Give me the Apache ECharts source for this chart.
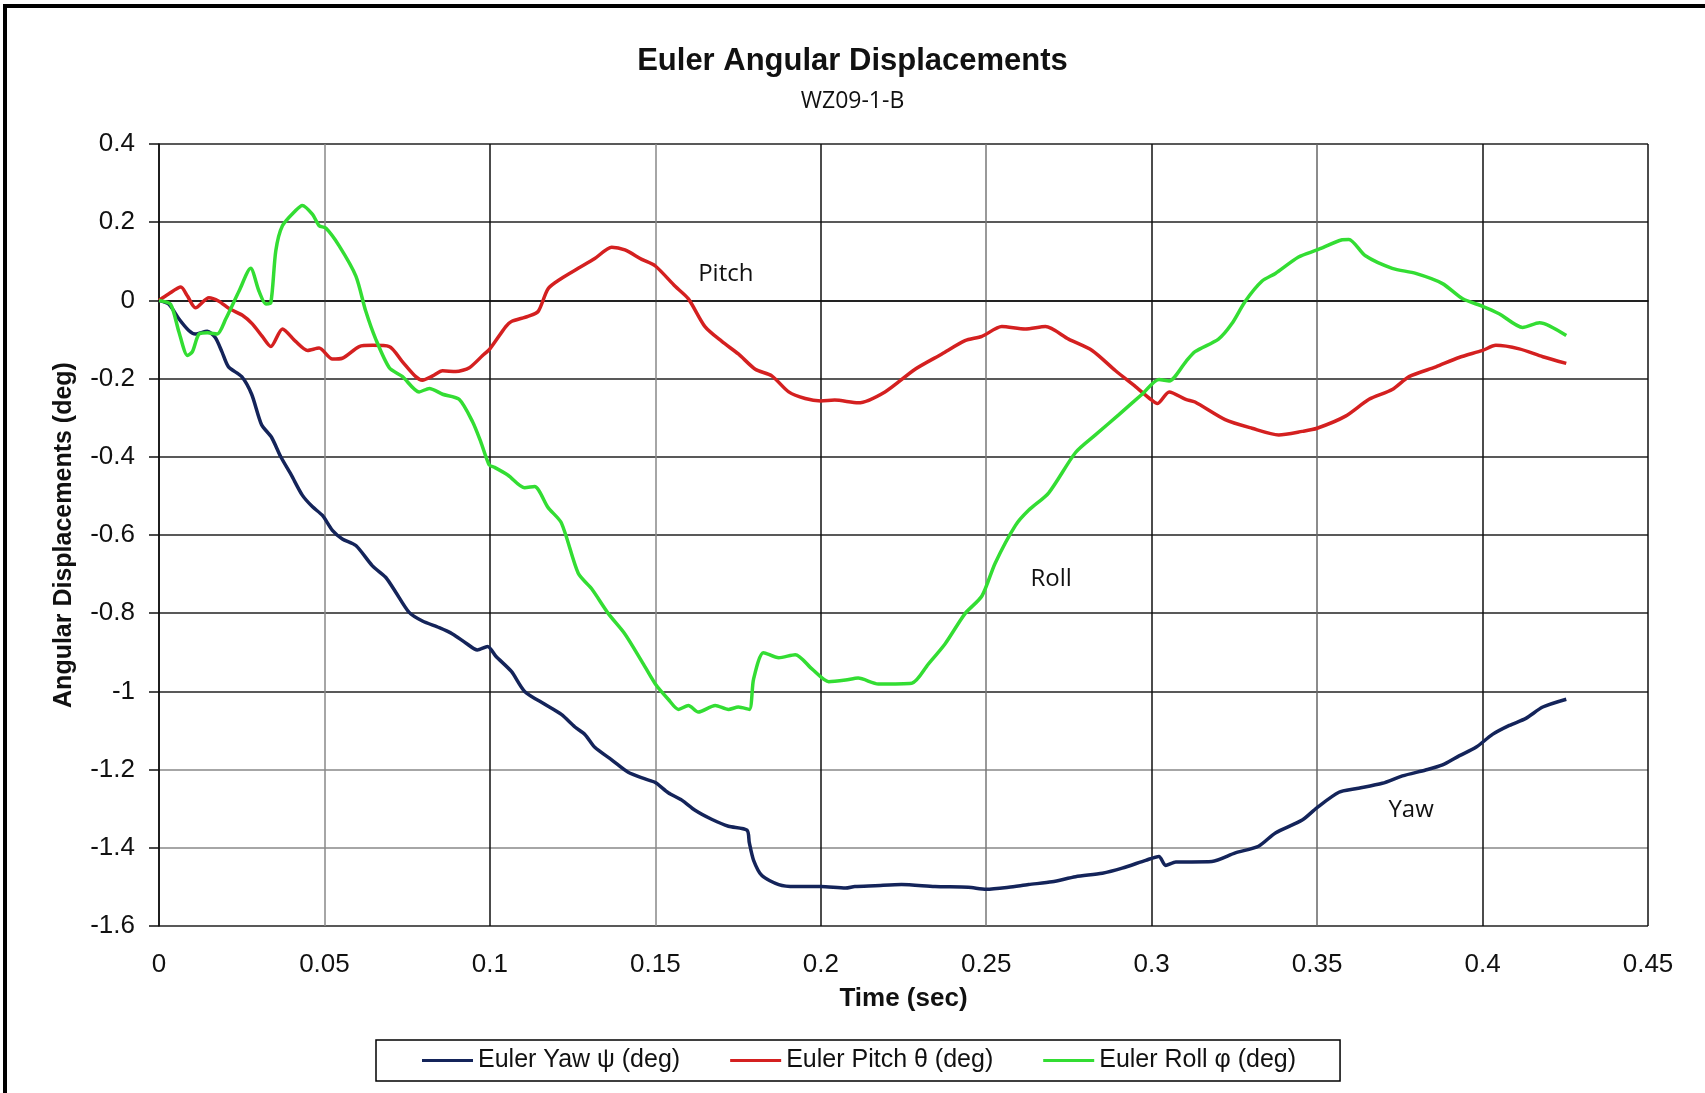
<!DOCTYPE html>
<html>
<head>
<meta charset="utf-8">
<script src="https://cdn.jsdelivr.net/npm/echarts@6/dist/echarts.min.js"></script>
<style>
html,body{margin:0;padding:0;background:#fff;}
#chart{width:1705px;height:1093px;}
</style>
</head>
<body>
<div id="chart"></div>
<script>
// ---- Data (time in sec, angle in deg) ----
const xTicks = [0, 0.05, 0.1, 0.15, 0.2, 0.25, 0.3, 0.35, 0.4, 0.45];
const yTicks = [0.4, 0.2, 0, -0.2, -0.4, -0.6, -0.8, -1, -1.2, -1.4, -1.6];

const yawData = [[0,0],[0.003,-0.01],[0.006,-0.047],[0.009,-0.077],[0.011,-0.086],[0.0146,-0.079],[0.017,-0.095],[0.019,-0.131],[0.021,-0.17],[0.025,-0.195],[0.028,-0.24],[0.031,-0.318],[0.034,-0.35],[0.0368,-0.40],[0.040,-0.447],[0.0433,-0.498],[0.0464,-0.528],[0.0494,-0.55],[0.0524,-0.588],[0.0554,-0.61],[0.0595,-0.627],[0.0645,-0.679],[0.0685,-0.708],[0.0716,-0.747],[0.0756,-0.798],[0.0796,-0.82],[0.0847,-0.837],[0.0887,-0.853],[0.0927,-0.876],[0.0962,-0.894],[0.0993,-0.885],[0.1018,-0.91],[0.1065,-0.949],[0.1105,-1.0],[0.1166,-1.033],[0.1216,-1.059],[0.1257,-1.091],[0.1287,-1.11],[0.1317,-1.143],[0.1368,-1.175],[0.1418,-1.207],[0.1469,-1.224],[0.15,-1.233],[0.1539,-1.259],[0.158,-1.278],[0.162,-1.304],[0.167,-1.327],[0.1721,-1.345],[0.1777,-1.355],[0.1784,-1.387],[0.1797,-1.432],[0.1822,-1.471],[0.1873,-1.494],[0.1923,-1.499],[0.2,-1.499],[0.2075,-1.503],[0.2103,-1.499],[0.2164,-1.497],[0.2244,-1.494],[0.2345,-1.499],[0.2446,-1.501],[0.25,-1.506],[0.2568,-1.501],[0.2628,-1.494],[0.2699,-1.487],[0.277,-1.474],[0.2851,-1.465],[0.2911,-1.452],[0.2982,-1.432],[0.3022,-1.422],[0.3042,-1.445],[0.3073,-1.436],[0.3121,-1.436],[0.3182,-1.435],[0.3253,-1.413],[0.3323,-1.396],[0.3374,-1.362],[0.3455,-1.329],[0.35,-1.297],[0.3566,-1.258],[0.3616,-1.249],[0.3697,-1.235],[0.3758,-1.216],[0.3828,-1.201],[0.3879,-1.188],[0.3929,-1.165],[0.398,-1.143],[0.403,-1.11],[0.4081,-1.087],[0.4131,-1.069],[0.4182,-1.04],[0.4253,-1.02]];

const pitchData = [[0,0],[0.003,0.017],[0.0066,0.034],[0.0086,0.011],[0.011,-0.019],[0.0151,0.007],[0.0181,-0.002],[0.0212,-0.021],[0.0252,-0.038],[0.0282,-0.06],[0.0312,-0.092],[0.0338,-0.118],[0.0373,-0.073],[0.0413,-0.105],[0.0449,-0.128],[0.0484,-0.122],[0.0524,-0.15],[0.0554,-0.148],[0.0605,-0.118],[0.0645,-0.115],[0.0696,-0.118],[0.0736,-0.157],[0.0776,-0.195],[0.0796,-0.204],[0.0827,-0.193],[0.0857,-0.18],[0.0897,-0.182],[0.0938,-0.172],[0.0978,-0.141],[0.1,-0.124],[0.1048,-0.067],[0.1065,-0.054],[0.1115,-0.041],[0.1146,-0.028],[0.1176,0.03],[0.1216,0.056],[0.1267,0.082],[0.1317,0.107],[0.1368,0.136],[0.1408,0.129],[0.1459,0.105],[0.15,0.088],[0.156,0.036],[0.16,0.004],[0.165,-0.067],[0.1701,-0.105],[0.1751,-0.137],[0.1802,-0.176],[0.1852,-0.193],[0.1903,-0.234],[0.1953,-0.251],[0.2,-0.257],[0.2042,-0.255],[0.2113,-0.262],[0.2194,-0.234],[0.2285,-0.176],[0.2366,-0.137],[0.2436,-0.103],[0.2487,-0.092],[0.2547,-0.067],[0.2618,-0.073],[0.2679,-0.067],[0.2749,-0.099],[0.282,-0.128],[0.2891,-0.18],[0.2952,-0.221],[0.2997,-0.253],[0.3017,-0.264],[0.3053,-0.234],[0.3103,-0.253],[0.3131,-0.26],[0.3222,-0.305],[0.3303,-0.327],[0.3384,-0.344],[0.3455,-0.335],[0.35,-0.327],[0.3586,-0.296],[0.3657,-0.253],[0.3727,-0.228],[0.3778,-0.195],[0.3859,-0.17],[0.3929,-0.146],[0.4,-0.128],[0.404,-0.115],[0.4111,-0.124],[0.4182,-0.144],[0.4253,-0.161]];

const rollData = [[0,0],[0.0035,-0.01],[0.006,-0.08],[0.0086,-0.141],[0.0101,-0.131],[0.0121,-0.086],[0.0146,-0.083],[0.0176,-0.086],[0.0202,-0.047],[0.0242,0.024],[0.0277,0.082],[0.0302,0.024],[0.0323,-0.009],[0.0338,-0.006],[0.0353,0.127],[0.0373,0.191],[0.0413,0.23],[0.0433,0.243],[0.0464,0.22],[0.0484,0.191],[0.0504,0.185],[0.0544,0.14],[0.0595,0.062],[0.0625,-0.028],[0.0655,-0.099],[0.0696,-0.172],[0.0736,-0.195],[0.0786,-0.234],[0.0817,-0.225],[0.0857,-0.24],[0.0907,-0.253],[0.0948,-0.311],[0.0973,-0.363],[0.0998,-0.421],[0.1014,-0.427],[0.1055,-0.447],[0.1105,-0.479],[0.1135,-0.476],[0.1176,-0.53],[0.1216,-0.569],[0.1267,-0.698],[0.1307,-0.737],[0.1358,-0.801],[0.1408,-0.853],[0.1459,-0.923],[0.15,-0.981],[0.1539,-1.02],[0.157,-1.046],[0.16,-1.036],[0.163,-1.053],[0.1681,-1.036],[0.1721,-1.046],[0.1751,-1.04],[0.1784,-1.046],[0.1797,-0.968],[0.1827,-0.901],[0.1873,-0.914],[0.1923,-0.906],[0.1974,-0.943],[0.2024,-0.975],[0.2075,-0.971],[0.2113,-0.966],[0.2174,-0.981],[0.2275,-0.979],[0.2325,-0.93],[0.2376,-0.878],[0.2436,-0.801],[0.2487,-0.756],[0.2527,-0.672],[0.2588,-0.576],[0.2628,-0.537],[0.2689,-0.492],[0.277,-0.389],[0.283,-0.344],[0.2901,-0.292],[0.2971,-0.24],[0.3022,-0.202],[0.3053,-0.206],[0.3103,-0.157],[0.3131,-0.131],[0.3202,-0.099],[0.3242,-0.06],[0.3283,-0.002],[0.3333,0.049],[0.3374,0.069],[0.3444,0.111],[0.35,0.129],[0.3576,0.155],[0.3596,0.156],[0.3646,0.114],[0.3727,0.082],[0.3798,0.069],[0.3879,0.043],[0.394,0.004],[0.4,-0.015],[0.405,-0.034],[0.4121,-0.069],[0.4172,-0.057],[0.4253,-0.09]];

const seriesNames = ['Euler Yaw \u03c8 (deg)', 'Euler Pitch \u03b8 (deg)', 'Euler Roll \u03c6 (deg)'];
const annotations = [
  {text: 'Yaw',   coord: [0.3784, -1.305]},
  {text: 'Pitch', coord: [0.1713, 0.066]},
  {text: 'Roll',  coord: [0.2696, -0.713]}
];

// ---- Chart ----
const chart = echarts.init(document.getElementById('chart'), null, {renderer: 'canvas'});
const ARIAL = '"Liberation Sans", Arial, sans-serif';
const CALIBRI = '"Open Sans", "Liberation Sans", sans-serif';
const colors = ['#14245a', '#d42020', '#33dd33'];
const datasets = [yawData, pitchData, rollData];

function annot(i) {
  const a = annotations[i];
  return {
    symbol: 'rect',
    symbolSize: [4, 4],
    silent: true,
    itemStyle: {color: 'rgba(0,0,0,0)'},
    label: {show: true, formatter: a.text, position: 'inside', color: '#111', fontFamily: CALIBRI, fontSize: 24},
    data: [{coord: a.coord, value: 0}]
  };
}

const hColors = ['#222','#888','#888','#222','#222','#222','#222','#222','#222','#222','#222'];
const vColors = ['#111','#888','#111','#888','#111','#777','#111','#666','#111','#111'];

chart.setOption({
  backgroundColor: '#fff',
  animation: false,
  title: [
    {text: 'Euler Angular Displacements', left: 'center', top: 41,
     textStyle: {fontFamily: ARIAL, fontWeight: 'bold', fontSize: 31, color: '#111'}},
    {text: 'WZ09-1-B', left: 'center', top: 85,
     textStyle: {fontFamily: CALIBRI, fontWeight: 'normal', fontSize: 23, color: '#111'}}
  ],
  legend: {
    data: seriesNames,
    left: 376, top: 1040,
    padding: [8, 44, 8, 46],
    itemGap: 50,
    itemWidth: 51, itemHeight: 3,
    icon: 'rect',
    borderColor: '#000', borderWidth: 1.5,
    textStyle: {fontFamily: ARIAL, fontSize: 25, color: '#111'}
  },
  grid: {left: 159, top: 144, right: 57, bottom: 167, containLabel: false},
  xAxis: {
    type: 'value', min: 0, max: 0.45, interval: 0.05,
    name: 'Time (sec)', nameLocation: 'middle', nameGap: 60,
    nameTextStyle: {fontFamily: ARIAL, fontWeight: 'bold', fontSize: 26, color: '#111'},
    axisLine: {show: true, lineStyle: {color: '#111', width: 1.5}},
    axisTick: {show: false},
    axisLabel: {fontFamily: ARIAL, fontSize: 26, color: '#111', margin: 26,
      formatter: v => String(+v.toFixed(2))},
    splitLine: {show: true, lineStyle: {color: vColors, width: 1.5}}
  },
  yAxis: {
    type: 'value', min: -1.6, max: 0.4, interval: 0.2,
    name: 'Angular Displacements (deg)', nameLocation: 'middle', nameGap: 82, nameRotate: 90,
    nameTextStyle: {fontFamily: ARIAL, fontWeight: 'bold', fontSize: 25, color: '#111'},
    axisLine: {show: true, lineStyle: {color: '#111', width: 1.5}},
    axisTick: {show: true, inside: false, length: 10, lineStyle: {color: '#111', width: 1.5}},
    axisLabel: {fontFamily: ARIAL, fontSize: 26, color: '#111', margin: 24,
      formatter: v => String(+v.toFixed(1))},
    splitLine: {show: true, lineStyle: {color: hColors, width: 1.5}}
  },
  graphic: [{
    type: 'rect', silent: true, z: 100,
    shape: {x: 5, y: 6, width: 1710, height: 1100},
    style: {fill: 'none', stroke: '#000', lineWidth: 4}
  }],
  series: datasets.map((d, i) => ({
    name: seriesNames[i],
    type: 'line',
    data: d,
    showSymbol: false,
    symbol: 'none',
    smooth: 0.25,
    lineStyle: {color: colors[i], width: 3.5},
    itemStyle: {color: colors[i]},
    z: 3 + i,
    markPoint: annot(i)
  }))
});
</script>
</body>
</html>
